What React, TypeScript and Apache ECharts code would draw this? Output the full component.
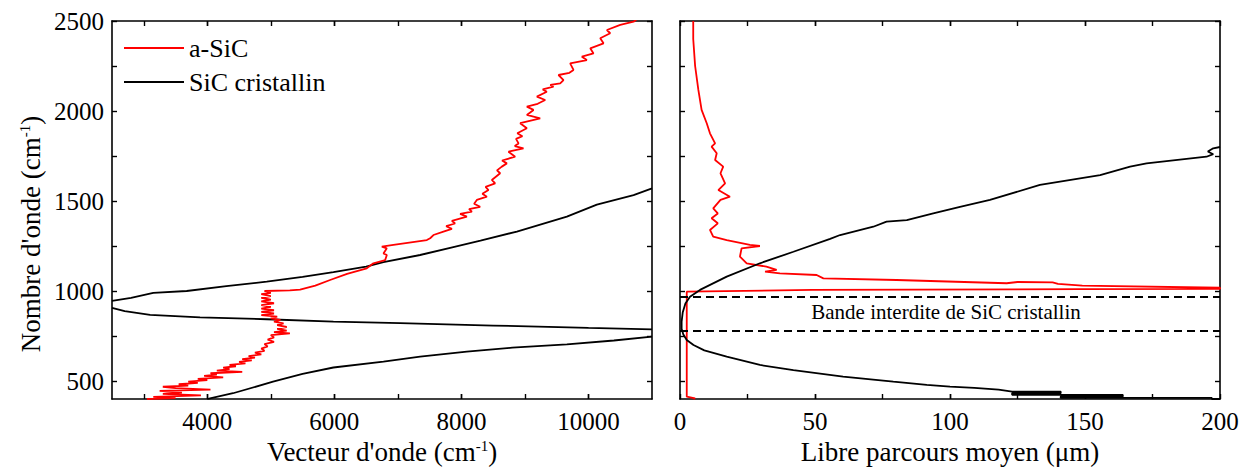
import React, { useEffect, useRef } from "react";
import * as echarts from "echarts";

const FONT = "'Liberation Serif', 'Times New Roman', serif";

// ---- Left panel: wave number (cm-1) vs wave vector (cm-1) ----
const leftXTicks = [3000, 4000, 5000, 6000, 7000, 8000, 9000, 10000];
const leftXLabels = [4000, 6000, 8000, 10000];
const yTicks = [500, 750, 1000, 1250, 1500, 1750, 2000, 2250, 2500];
const yLabels = [500, 1000, 1500, 2000, 2500];

const aSiCLeft: number[][] = [
  [3050, 400], [3500, 405], [3150, 412], [3900, 420], [3300, 428], [3600, 435], [3250, 445],
  [4050, 452], [3500, 460], [3300, 468], [3700, 474], [3550, 482], [3850, 490], [3700, 497],
  [4000, 505], [3850, 512], [4250, 520], [3950, 528], [4150, 536], [4050, 543], [4550, 551],
  [4150, 558], [4350, 566], [4250, 574], [4450, 582], [4350, 590], [4600, 598], [4500, 606],
  [4700, 614], [4550, 622], [4750, 630], [4650, 638], [4850, 648], [4750, 658], [4900, 668],
  [4850, 680], [4950, 692], [4900, 705], [5050, 718], [4950, 730], [5050, 742], [5000, 755],
  [5300, 765], [5050, 772], [5250, 780], [5100, 790], [5250, 800], [5100, 810], [5200, 820],
  [5050, 830], [5150, 840], [5000, 848], [5100, 858], [4850, 866], [5050, 875], [4850, 884],
  [5050, 893], [4850, 902], [5000, 912], [4850, 922], [5050, 932], [4850, 942], [5000, 952],
  [4850, 962], [5000, 972], [4850, 982], [5000, 990], [4900, 1000], [5300, 1003], [5460, 1008],
  [5700, 1030], [5933, 1061], [6200, 1095], [6510, 1126], [6615, 1154], [6800, 1172],
  [6826, 1200], [6773, 1209], [6826, 1237], [6747, 1246], [6930, 1256], [7456, 1283],
  [7508, 1293], [7560, 1311], [7717, 1330], [7850, 1345], [7760, 1360], [7900, 1375],
  [7850, 1390], [8086, 1413], [7980, 1428], [8165, 1441], [8120, 1455], [8295, 1468],
  [8200, 1485], [8243, 1506], [8401, 1524], [8330, 1540], [8426, 1561], [8380, 1578],
  [8531, 1598], [8479, 1617], [8610, 1654], [8560, 1670], [8636, 1691], [8715, 1709],
  [8640, 1725], [8846, 1746], [8741, 1774], [8977, 1793], [8840, 1805], [8899, 1820],
  [8860, 1845], [8960, 1860], [8880, 1876], [9030, 1904], [8925, 1932], [9240, 1959],
  [9030, 1978], [9135, 2006], [9030, 2024], [9200, 2040], [9319, 2061], [9188, 2080],
  [9344, 2107], [9280, 2120], [9449, 2135], [9400, 2145], [9555, 2154], [9607, 2172],
  [9528, 2200], [9700, 2212], [9764, 2228], [9712, 2265], [9974, 2283], [9896, 2302],
  [10079, 2320], [10028, 2348], [10237, 2376], [10185, 2404], [10342, 2432], [10290, 2450],
  [10500, 2478], [10710, 2496], [10760, 2510],
];

const cSiCUpper: number[][] = [
  [2500, 945], [2800, 962], [3150, 990], [3676, 1000], [4300, 1027], [4936, 1052],
  [5500, 1078], [5985, 1105], [6500, 1135], [6773, 1160], [7350, 1200], [7823, 1240],
  [8300, 1280], [8873, 1330], [9660, 1413], [10132, 1480], [10710, 1533], [11000, 1570],
];
const cSiCMiddle: number[][] = [
  [2500, 906], [2700, 888], [3100, 867], [3886, 854], [4936, 843], [5985, 830],
  [7035, 821], [8500, 808], [10000, 795], [11000, 787],
];
const cSiCLower: number[][] = [
  [4000, 400], [4043, 404], [4405, 432], [5035, 496], [5500, 540], [5985, 575],
  [6773, 608], [7350, 635], [8085, 663], [8800, 685], [9660, 704], [10400, 725], [11000, 746],
];

// ---- Right panel: wave number vs mean free path (µm) ----
const rightXTicks = [25, 50, 75, 100, 125, 150, 175];
const rightXLabels = [0, 50, 100, 150, 200];
const gapLimits = [970, 780];

const aSiCRight: number[][] = [
  [4.9, 2500], [4.9, 2400], [5.6, 2250], [6.8, 2117], [8, 2006], [9.9, 1932], [11.1, 1876],
  [13, 1820], [11.7, 1802], [13.6, 1765], [13, 1728], [16, 1691], [15, 1654], [16.7, 1598],
  [14.2, 1561], [18.5, 1524], [15, 1506], [12.3, 1459], [14, 1431], [11.7, 1404], [14, 1376],
  [11.1, 1339], [12.3, 1302], [17.3, 1283], [25.9, 1256], [29.6, 1250], [22.8, 1237],
  [22.2, 1191], [24.7, 1154], [32, 1135], [35.8, 1117], [31.5, 1108], [37, 1098],
  [50.6, 1089], [53.1, 1070], [80.2, 1061], [121, 1043], [125, 1050], [138, 1048],
  [140, 1040], [149, 1030], [200, 1018], [200, 1012], [148, 1010], [49, 1006], [2.5, 996],
  [2.5, 413], [5.6, 404], [5, 400],
];

const cSiCRight: number[][] = [
  [200, 1800], [197.5, 1793], [195.5, 1775], [197.5, 1760], [195, 1746], [172.8, 1709],
  [166.7, 1691], [155.6, 1644], [133.3, 1589], [114.8, 1506], [103.7, 1468], [93.8, 1431],
  [84, 1394], [76.5, 1385], [71.6, 1357], [59.3, 1311], [55.6, 1290], [42, 1218],
  [29.6, 1154], [17.3, 1080], [7.4, 1006], [3.7, 968], [2.0, 930], [1.0, 880], [0.6, 830],
  [0.6, 790], [1.2, 760], [2.5, 728], [5, 700], [9, 670], [17.3, 635], [29.6, 589],
  [42, 561], [60.4, 524], [79, 496], [91.4, 478], [100, 469], [109, 462], [118, 452],
  [123, 441], [141, 441], [141, 432], [123, 432], [123, 423], [164, 423], [164, 414],
  [141, 414], [141, 406], [197, 406], [197, 400], [200, 400],
];

const RED = "#ff0000";
const BLACK = "#000000";

const nameRich = {
  t: { fontSize: 27, fontFamily: FONT, color: "#000" },
  s: { fontSize: 15, fontFamily: FONT, color: "#000", verticalAlign: "top" },
};

const plain = (v: number) => String(v);

function xAxisDef(grid: number, min: number, max: number, ticks: number[], labels: number[], top: boolean, name?: string) {
  return {
    type: "value",
    gridIndex: grid,
    position: top ? "top" : "bottom",
    min,
    max,
    name: name || "",
    nameLocation: "middle",
    nameGap: 37,
    nameTextStyle: { fontFamily: FONT, fontSize: 27, color: "#000", rich: nameRich },
    axisLine: { show: true, onZero: false, lineStyle: { color: "#000", width: 1.6 } },
    axisTick: { show: true, inside: true, length: 5, customValues: ticks.concat(labels), lineStyle: { color: "#000", width: 1.4 } },
    axisLabel: { show: !top, customValues: labels, formatter: plain, margin: 10, fontFamily: FONT, fontSize: 25, color: "#000" },
    splitLine: { show: false },
  };
}

function yAxisDef(grid: number, right: boolean, showLabels: boolean) {
  return {
    type: "value",
    gridIndex: grid,
    position: right ? "right" : "left",
    min: 400,
    max: 2500,
    axisLine: { show: true, onZero: false, lineStyle: { color: "#000", width: 1.6 } },
    axisTick: { show: true, inside: true, length: 5, customValues: yTicks, lineStyle: { color: "#000", width: 1.4 } },
    axisLabel: { show: showLabels, customValues: yLabels, formatter: plain, margin: 8, fontFamily: FONT, fontSize: 25, color: "#000" },
    splitLine: { show: false },
  };
}

function lineSeries(name: string, data: number[][], color: string, xi: number, yi: number, extra: any = {}) {
  return {
    type: "line",
    name,
    data,
    xAxisIndex: xi,
    yAxisIndex: yi,
    symbol: "none",
    showSymbol: false,
    clip: true,
    lineStyle: { color, width: 1.8 },
    itemStyle: { color },
    ...extra,
  };
}

export default function App() {
  const ref = useRef<HTMLDivElement>(null);
  useEffect(() => {
    if (!ref.current) return;
    const chart = echarts.init(ref.current, null, { renderer: "svg" });
    chart.setOption({
      animation: false,
      backgroundColor: "#ffffff",
      textStyle: { fontFamily: FONT, color: "#000" },
      grid: [
        { left: 112, top: 21, width: 540, height: 378 },
        { left: 680, top: 21, width: 540, height: 378 },
      ],
      xAxis: [
        xAxisDef(0, 2500, 11000, leftXTicks, leftXLabels, false, "{t|Vecteur d'onde (cm}{s|-1}{t|)}"),
        xAxisDef(0, 2500, 11000, leftXTicks, leftXLabels, true),
        xAxisDef(1, 0, 200, rightXTicks, rightXLabels, false, "{t|Libre parcours moyen (\u03bcm)}"),
        xAxisDef(1, 0, 200, rightXTicks, rightXLabels, true),
      ],
      yAxis: [
        yAxisDef(0, false, true),
        yAxisDef(0, true, false),
        yAxisDef(1, false, false),
        yAxisDef(1, true, false),
      ],
      legend: {
        left: 119,
        top: 30,
        orient: "vertical",
        icon: "rect",
        itemWidth: 60,
        itemHeight: 2,
        itemGap: 8,
        data: ["a-SiC", "SiC cristallin"],
        textStyle: { fontFamily: FONT, fontSize: 26, color: "#000", lineHeight: 26 },
      },
      series: [
        lineSeries("SiC cristallin", cSiCUpper, BLACK, 0, 0),
        lineSeries("SiC cristallin", cSiCMiddle, BLACK, 0, 0),
        lineSeries("SiC cristallin", cSiCLower, BLACK, 0, 0),
        lineSeries("a-SiC", aSiCLeft, RED, 0, 0),
        lineSeries("a-SiC", aSiCRight, RED, 2, 2),
        lineSeries("SiC cristallin", cSiCRight, BLACK, 2, 2, {
          markLine: {
            silent: true,
            symbol: "none",
            label: { show: false },
            lineStyle: { type: [8, 5], color: "#000", width: 1.8 },
            data: gapLimits.map((v) => ({ yAxis: v })),
          },
        }),
      ],
      graphic: [
        {
          type: "text",
          x: 31,
          y: 234,
          rotation: Math.PI / 2,
          style: {
            text: "{t|Nombre d'onde (cm}{s|-1}{t|)}",
            rich: nameRich,
            align: "center",
            verticalAlign: "middle",
            fontFamily: FONT,
            fontSize: 27,
            fill: "#000",
          },
        },
        {
          type: "text",
          x: 946,
          y: 312,
          style: {
            text: "Bande interdite de SiC cristallin",
            align: "center",
            verticalAlign: "middle",
            fontFamily: FONT,
            fontSize: 21,
            fill: "#000",
          },
        },
      ],
    });
    return () => chart.dispose();
  }, []);
  return <div ref={ref} style={{ position: "absolute", left: 0, top: 0, width: 1250, height: 471 }} />;
}
